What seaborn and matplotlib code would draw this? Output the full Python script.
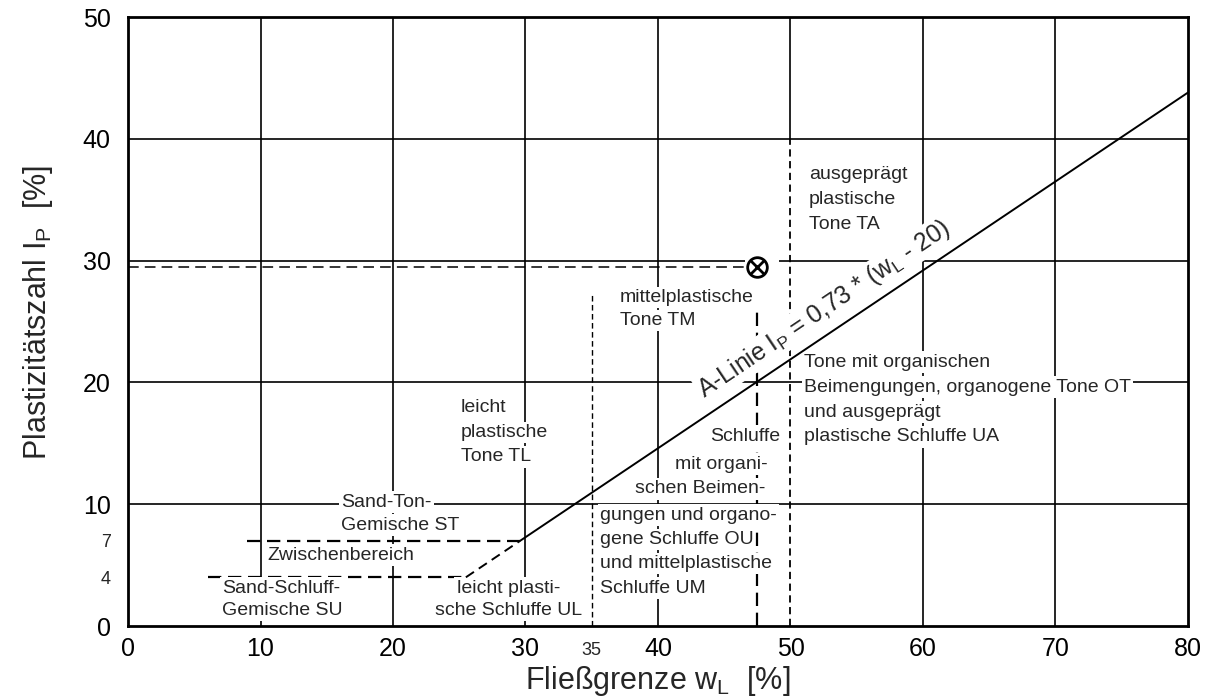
import numpy as np
import matplotlib
matplotlib.use("Agg")
import matplotlib.pyplot as plt
import matplotlib.transforms as mtransforms
import seaborn as sns

# values
x_ticks = [0, 10, 20, 30, 40, 50, 60, 70, 80]
y_ticks = [0, 10, 20, 30, 40, 50]
x_minor = [35]
y_minor = [4, 7]

grid_w = [10, 20, 30, 40, 60, 70]
grid_ip = [10, 20, 40]

# A-line I_P = 0.73 * (w_L - 20), solid above I_P = 7, dashed between 4 and 7
a_line_w = [29.6, 80.0]
a_line_ip = [7.0, 43.8]
a_dash_w = [25.5, 29.6]
a_dash_ip = [4.0, 7.0]

# horizontal boundary lines (I_P, from w_L, to w_L)
limit_ip = [7.0, 4.0]
limit_ip_from = [9.0, 6.0]
limit_ip_to = [29.6, 25.5]

# vertical boundary lines (w_L, up to I_P)
limit_w = [35.0, 47.5, 50.0]
limit_w_top = [27.4, 26.0, 40.0]

# sample point
sample_w = [47.5]
sample_ip = [29.5]

sns.set_style("white")
plt.rcParams['font.family'] = ['Liberation Sans', 'DejaVu Sans']
plt.rcParams['mathtext.fontset'] = 'custom'
plt.rcParams['mathtext.rm'] = 'Liberation Sans'
plt.rcParams['mathtext.it'] = 'Liberation Sans'

fig, ax = plt.subplots(figsize=(12.11, 7.0), dpi=100)
fig.subplots_adjust(left=0.1057, right=0.981, bottom=0.1057, top=0.9757)
ax.set_xlim(0, 80)
ax.set_ylim(0, 50)

# grid
ax.vlines(grid_w, 0, 50, colors='black', lw=1.2, zorder=1)
ax.vlines(50, 40, 50, colors='black', lw=1.2, zorder=1)
ax.hlines(grid_ip, 0, 80, colors='black', lw=1.2, zorder=1)
ax.hlines([30, 30], [0, 49.1], [46.6, 80], colors='black', lw=1.2, zorder=1)

# boundaries
h_styles = [(0, (6, 3)), (0, (6, 3))]
for ip, w0, w1, ls in zip(limit_ip, limit_ip_from, limit_ip_to, h_styles):
    ax.hlines(ip, w0, w1, colors='black', lw=1.6, linestyles=[ls], zorder=2)
v_styles = [(0, (4, 2.5)), (0, (6, 3)), (0, (4, 2.5))]
v_widths = [1.0, 1.6, 1.3]
for w, top, ls, lw in zip(limit_w, limit_w_top, v_styles, v_widths):
    ax.vlines(w, 0, top, colors='black', lw=lw, linestyles=[ls], zorder=2)

ax.hlines(sample_ip, 0, sample_w, colors='black', lw=1.1, linestyles=[(0, (7, 4))], zorder=2)

# A-line
sns.lineplot(x=a_line_w, y=a_line_ip, color='black', lw=1.4, ax=ax, zorder=5)
sns.lineplot(x=a_dash_w, y=a_dash_ip, color='black', lw=1.4, ax=ax, zorder=5,
             linestyle=(0, (5, 3)))

# sample point
sns.scatterplot(x=sample_w, y=sample_ip, marker='o', s=200, facecolor='white',
                edgecolor='black', linewidth=2, ax=ax, zorder=6)
sns.scatterplot(x=sample_w, y=sample_ip, marker='x', s=95, color='black',
                linewidth=2, ax=ax, zorder=7)

box = dict(facecolor='white', edgecolor='none', pad=1.5)
fs = 14


def label(x, y, s, ha='left', step=2.05):
    # one text per line, each with its own white background
    for i, line in enumerate(s.split("\n")):
        ax.text(x, y - i * step, line, ha=ha, va='center', fontsize=fs,
                bbox=box, zorder=3)


label(16.1, 10.18, "Sand-Ton-\nGemische ST", step=1.89)
label(10.5, 5.83, "Zwischenbereich")
label(7.1, 3.12, "Sand-Schluff-\nGemische SU", step=1.81)
label(28.7, 3.12, "leicht plasti-\nsche Schluffe UL", ha='center', step=1.81)
label(25.1, 17.9, "leicht\nplastische\nTone TL", step=2.01)
label(37.1, 27.0, "mittelplastische\nTone TM", step=1.9)
label(51.4, 37.03, "ausgeprägt\nplastische\nTone TA", step=2.05)
label(51.0, 21.67, "Tone mit organischen\nBeimengungen, organogene Tone OT\n"
      "und ausgeprägt\nplastische Schluffe UA", step=2.05)
label(49.2, 15.6, "Schluffe", ha='right')
label(48.3, 13.3, "mit organi-", ha='right')
label(48.1, 11.25, "schen Beimen-", ha='right')
label(35.6, 9.11, "gungen und organo-\ngene Schluffe OU\nund mittelplastische\nSchluffe UM",
      step=2.0)

# A-line label along the line
xa = 53.5
ya = np.interp(xa, a_line_w, a_line_ip)
p0 = ax.transData.transform((a_line_w[0], a_line_ip[0]))
p1 = ax.transData.transform((a_line_w[1], a_line_ip[1]))
ang = np.degrees(np.arctan2(p1[1] - p0[1], p1[0] - p0[0]))
d = 0.16
off = mtransforms.ScaledTranslation(-d * np.sin(np.radians(ang)), d * np.cos(np.radians(ang)),
                                    fig.dpi_scale_trans)
ax.text(xa, ya, r"A-Linie I$_\mathrm{P}$ = 0,73 * (w$_\mathrm{L}$ - 20)",
        transform=ax.transData + off, rotation=ang, rotation_mode='anchor',
        ha='center', va='baseline', fontsize=17.8,
        bbox=dict(facecolor='white', edgecolor='none', pad=1.0), zorder=4)

# axes, ticks
ax.set_xticks(x_ticks)
ax.set_yticks(y_ticks)
ax.set_xticks(x_minor, labels=['35'], minor=True)
ax.set_yticks(y_minor, labels=['4', '7'], minor=True)
ax.tick_params(axis='both', which='major', length=0, labelsize=18, colors='black')
ax.tick_params(axis='x', which='major', pad=8)
ax.tick_params(axis='y', which='major', pad=12.5)
ax.tick_params(axis='x', which='minor', length=0, labelsize=13, pad=11.5)
ax.tick_params(axis='y', which='minor', direction='in', length=10, width=1.5,
               labelsize=13, pad=12.5)
for sp in ax.spines.values():
    sp.set_linewidth(2)
    sp.set_color('black')

ax.set_xlabel("Fließgrenze w$_\\mathrm{L}$  [%]", fontsize=22)
ax.set_ylabel("Plastizitätszahl I$_\\mathrm{P}$  [%]", fontsize=22)
ax.xaxis.set_label_coords(0.5, -0.062)
ax.yaxis.set_label_coords(-0.069, 0.515)

fig.savefig("out.png", dpi=100, facecolor='white')
